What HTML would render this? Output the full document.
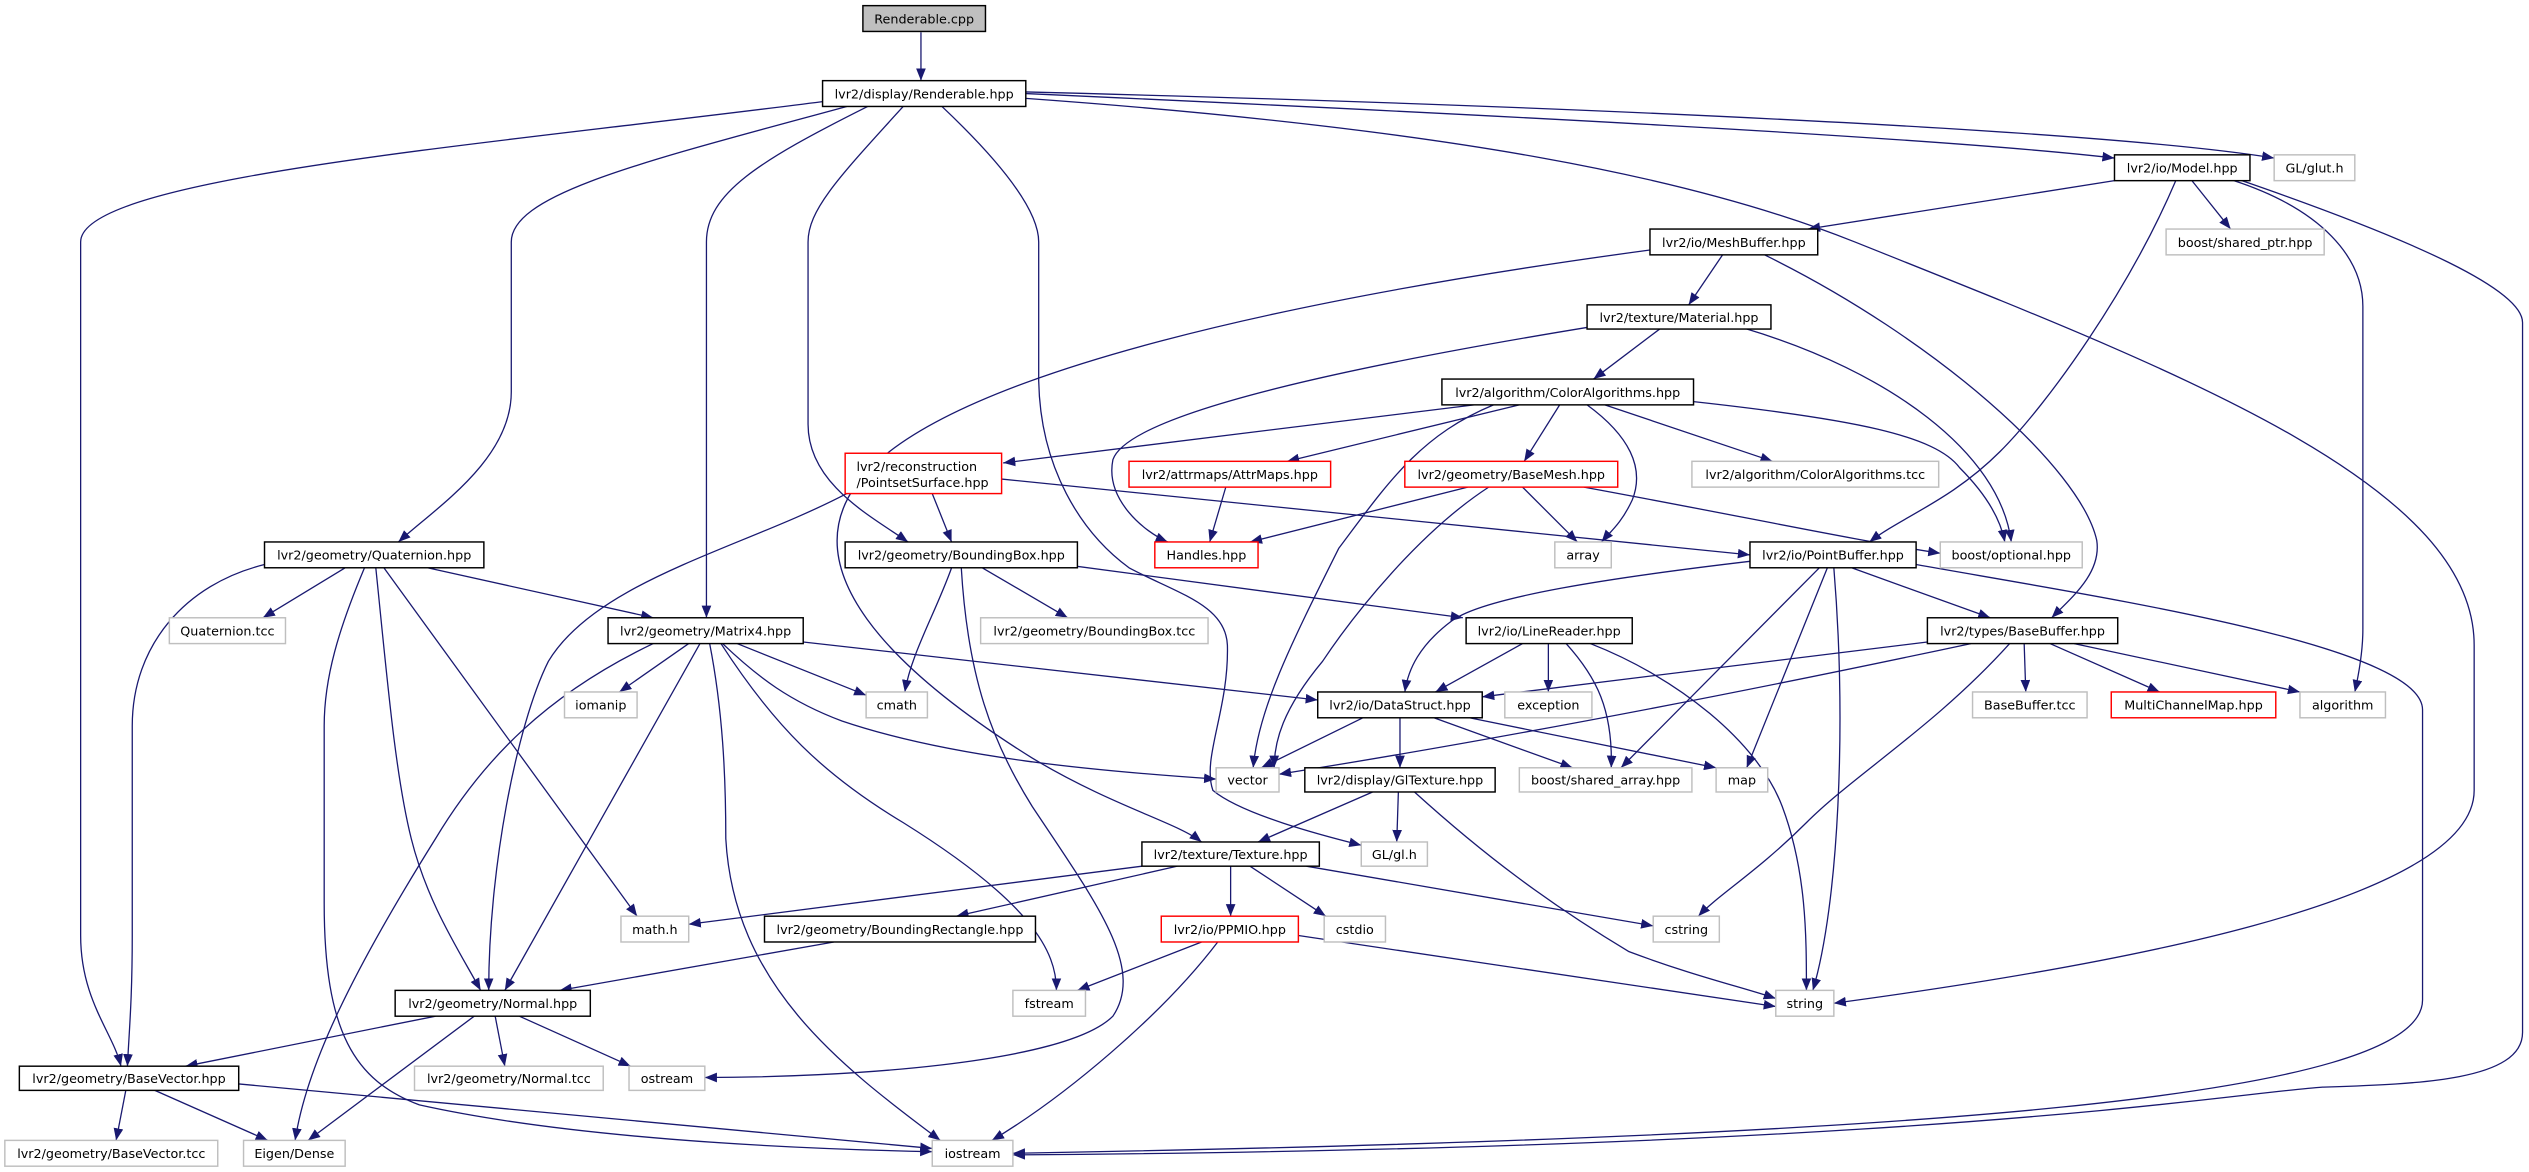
<!DOCTYPE html>
<html><head><meta charset="utf-8"><style>
html,body{margin:0;padding:0;background:#fff;}
svg{display:block;}
text{font-family:"DejaVu Sans","Liberation Sans",sans-serif;font-size:7.9px;fill:#000;}
.e{fill:none;stroke:#191970;stroke-width:0.8;}
.b{fill:#fff;stroke:#000;stroke-width:0.9;}
.g{fill:#fff;stroke:#bfbfbf;stroke-width:0.9;}
.r{fill:#fff;stroke:#ff0000;stroke-width:0.9;}
</style></head><body>
<svg width="2529" height="1172" viewBox="0 0 1568 726.6" preserveAspectRatio="none" xmlns="http://www.w3.org/2000/svg">
<defs><marker id="a" markerUnits="userSpaceOnUse" markerWidth="10" markerHeight="8" refX="7.5" refY="3" orient="auto"><path d="M0,0 L7.5,3 L0,6 Z" fill="#191970"/></marker></defs>
<g marker-end="url(#a)">
<path class="e" d="M571,20 L571,50"/>
<path class="e" d="M510,63 C300,90 50,110 50,150 L50,580 C50,620 70,640 75,661"/>
<path class="e" d="M525,66 C400,100 317,120 317,150 L317,243 C317,285 270,315 247,336"/>
<path class="e" d="M538,66 C470,100 438,120 438,150 L438,383"/>
<path class="e" d="M560,66 C520,110 501,130 501,150 L501,263 C501,300 540,320 563,336"/>
<path class="e" d="M584,66 C620,100 644,130 644,150 L644,236 C645,290 670,330 700,352 C730,368 760,375 761,400 C762,440 745,470 752,490 C770,505 820,518 844,524"/>
<path class="e" d="M636,58 C900,70 1200,85 1311,98"/>
<path class="e" d="M636,57 C950,65 1300,80 1410,98"/>
<path class="e" d="M636,61 C900,80 1050,110 1150,150 C1350,230 1534,300 1534,400 L1534,490 C1534,560 1300,600 1137,622"/>
<path class="e" d="M1311,112 L1121,142"/>
<path class="e" d="M1359,112 L1383,142"/>
<path class="e" d="M1349,112 C1320,180 1270,250 1240,280 C1210,310 1180,320 1159,336"/>
<path class="e" d="M1385,112 C1440,130 1465,160 1465,190 L1465,390 C1465,405 1462,420 1460,429"/>
<path class="e" d="M1390,112 C1500,150 1564,180 1564,200 L1564,640 C1564,670 1500,672 1440,674 C1380,678 1200,712 628,716"/>
<path class="e" d="M1188,350 C1300,370 1502,400 1502,440 L1502,620 C1502,680 1200,705 628,715"/>
<path class="e" d="M1068,158 L1047,189"/>
<path class="e" d="M1023,155 C800,185 600,230 540,290 C480,350 560,420 640,470 C690,500 730,510 745,522"/>
<path class="e" d="M1094,158 C1200,210 1290,290 1300,335 C1303,355 1285,370 1272,383"/>
<path class="e" d="M984,203 C850,225 700,255 690,285 C685,310 710,330 724,336"/>
<path class="e" d="M1029,204 L988,235"/>
<path class="e" d="M1083,204 C1170,230 1240,280 1247,336"/>
<path class="e" d="M914,251 L622,287"/>
<path class="e" d="M942,251 L798,286"/>
<path class="e" d="M926,251 C880,270 860,300 830,340 C800,400 780,440 777,476"/>
<path class="e" d="M967,251 L945,286"/>
<path class="e" d="M984,251 C1010,270 1020,290 1012,310 C1005,325 998,330 993,336"/>
<path class="e" d="M995,251 L1099,286"/>
<path class="e" d="M1050,249 C1150,260 1200,270 1215,290 C1230,305 1240,320 1243,336"/>
<path class="e" d="M578,306 L590,336"/>
<path class="e" d="M621,297 C800,315 950,330 1085,344"/>
<path class="e" d="M525,306 C460,340 370,360 340,410 C320,450 303,540 303,614"/>
<path class="e" d="M760,302 L750,336"/>
<path class="e" d="M910,302 L775,336"/>
<path class="e" d="M923,302 C880,330 840,380 820,410 C795,440 790,460 790,476"/>
<path class="e" d="M944,302 L978,336"/>
<path class="e" d="M982,302 C1080,320 1150,335 1203,343"/>
<path class="e" d="M214,352 L163,383"/>
<path class="e" d="M265,352 L405,383"/>
<path class="e" d="M164,350 C115,362 82,400 82,450 L82,580 C82,620 80,640 79,661"/>
<path class="e" d="M226,352 C210,390 201,420 201,450 L201,560 C201,640 220,670 260,685 C350,705 480,712 578,714"/>
<path class="e" d="M233,352 C240,420 245,480 255,520 C265,560 285,590 298,614"/>
<path class="e" d="M238,352 L395,568"/>
<path class="e" d="M590,352 C580,380 565,405 561,429"/>
<path class="e" d="M609,352 L662,383"/>
<path class="e" d="M652,349 L907,383"/>
<path class="e" d="M596,352 C600,420 615,460 640,500 C680,560 710,600 690,630 C660,660 520,668 437,668"/>
<path class="e" d="M427,399 L384,429"/>
<path class="e" d="M405,399 C340,430 300,470 270,520 C220,600 190,660 183,707"/>
<path class="e" d="M434,399 L313,614"/>
<path class="e" d="M440,399 C448,440 450,480 450,520 C455,610 520,660 583,707"/>
<path class="e" d="M457,399 L537,431"/>
<path class="e" d="M448,399 C470,420 490,435 522,447 C590,470 680,478 754,483"/>
<path class="e" d="M447,399 C480,450 510,480 560,510 C640,560 655,590 655,614"/>
<path class="e" d="M498,398 L817,434"/>
<path class="e" d="M944,399 L890,429"/>
<path class="e" d="M960,399 L960,429"/>
<path class="e" d="M971,399 C990,420 1000,440 999,476"/>
<path class="e" d="M986,399 C1040,420 1090,460 1105,500 C1120,540 1120,580 1120,614"/>
<path class="e" d="M1085,348 C1000,358 920,370 900,385 C880,400 873,415 871,429"/>
<path class="e" d="M1128,352 L1005,476"/>
<path class="e" d="M1133,352 L1083,476"/>
<path class="e" d="M1137,352 C1145,450 1140,560 1124,614"/>
<path class="e" d="M1148,352 L1234,383"/>
<path class="e" d="M1195,398 L919,432"/>
<path class="e" d="M1222,399 C1100,425 950,455 793,480"/>
<path class="e" d="M1246,399 C1200,450 1150,480 1120,510 C1090,540 1065,555 1053,568"/>
<path class="e" d="M1255,399 L1256,429"/>
<path class="e" d="M1271,399 L1339,429"/>
<path class="e" d="M1286,399 L1426,429"/>
<path class="e" d="M845,445 L782,476"/>
<path class="e" d="M868,445 L868,476"/>
<path class="e" d="M889,445 L975,476"/>
<path class="e" d="M911,445 L1064,476"/>
<path class="e" d="M851,491 L780,522"/>
<path class="e" d="M867,491 L866,522"/>
<path class="e" d="M877,491 C920,530 960,560 1010,590 C1050,605 1080,612 1101,619"/>
<path class="e" d="M708,537 L427,573"/>
<path class="e" d="M730,537 L593,568"/>
<path class="e" d="M763,537 L763,568"/>
<path class="e" d="M775,537 L822,568"/>
<path class="e" d="M810,537 L1025,574"/>
<path class="e" d="M745,584 L668,614"/>
<path class="e" d="M805,580 L1101,624"/>
<path class="e" d="M755,584 C720,630 660,680 615,707"/>
<path class="e" d="M517,584 L347,614"/>
<path class="e" d="M270,630 L115,661"/>
<path class="e" d="M294,630 L191,707"/>
<path class="e" d="M307,630 L313,661"/>
<path class="e" d="M322,630 L391,661"/>
<path class="e" d="M78,676 L72,707"/>
<path class="e" d="M96,676 L166,707"/>
<path class="e" d="M148,672 L578,712"/>
</g>
<g text-anchor="middle">
<rect x="535" y="3.5" width="76" height="16" fill="#bfbfbf" stroke="#000" stroke-width="0.9"/><text x="573" y="14.5">Renderable.cpp</text>
<rect class="b" x="510" y="50" width="126" height="16"/><text x="573" y="61">lvr2/display/Renderable.hpp</text>
<rect class="b" x="1311" y="96" width="84" height="16"/><text x="1353" y="107">lvr2/io/Model.hpp</text>
<rect class="g" x="1410" y="96" width="50" height="16"/><text x="1435" y="107">GL/glut.h</text>
<rect class="b" x="1023" y="142" width="104" height="16"/><text x="1075" y="153">lvr2/io/MeshBuffer.hpp</text>
<rect class="g" x="1343" y="142" width="98" height="16"/><text x="1392" y="153">boost/shared_ptr.hpp</text>
<rect class="b" x="984" y="189" width="114" height="15"/><text x="1041" y="199.5">lvr2/texture/Material.hpp</text>
<rect class="b" x="894" y="235" width="156" height="16"/><text x="972" y="246">lvr2/algorithm/ColorAlgorithms.hpp</text>
<rect class="r" x="524" y="281" width="97" height="25"/>
<rect class="r" x="700" y="286" width="125" height="16"/><text x="762.5" y="297">lvr2/attrmaps/AttrMaps.hpp</text>
<rect class="r" x="871" y="286" width="132" height="16"/><text x="937" y="297">lvr2/geometry/BaseMesh.hpp</text>
<rect class="g" x="1049" y="286" width="153" height="16"/><text x="1125.5" y="297">lvr2/algorithm/ColorAlgorithms.tcc</text>
<rect class="b" x="164" y="336" width="136" height="16"/><text x="232" y="347">lvr2/geometry/Quaternion.hpp</text>
<rect class="b" x="524" y="336" width="144" height="16"/><text x="596" y="347">lvr2/geometry/BoundingBox.hpp</text>
<rect class="r" x="716" y="336" width="64" height="16"/><text x="748" y="347">Handles.hpp</text>
<rect class="g" x="964" y="336" width="35" height="16"/><text x="981.5" y="347">array</text>
<rect class="b" x="1085" y="336" width="103" height="16"/><text x="1136.5" y="347">lvr2/io/PointBuffer.hpp</text>
<rect class="g" x="1203" y="336" width="88" height="16"/><text x="1247" y="347">boost/optional.hpp</text>
<rect class="g" x="105" y="383" width="72" height="16"/><text x="141" y="394">Quaternion.tcc</text>
<rect class="b" x="377" y="383" width="121" height="16"/><text x="437.5" y="394">lvr2/geometry/Matrix4.hpp</text>
<rect class="g" x="608" y="383" width="141" height="16"/><text x="678.5" y="394">lvr2/geometry/BoundingBox.tcc</text>
<rect class="b" x="909" y="383" width="103" height="16"/><text x="960.5" y="394">lvr2/io/LineReader.hpp</text>
<rect class="b" x="1195" y="383" width="118" height="16"/><text x="1254" y="394">lvr2/types/BaseBuffer.hpp</text>
<rect class="g" x="350" y="429" width="45" height="16"/><text x="372.5" y="440">iomanip</text>
<rect class="g" x="537" y="429" width="38" height="16"/><text x="556" y="440">cmath</text>
<rect class="b" x="817" y="429" width="102" height="16"/><text x="868" y="440">lvr2/io/DataStruct.hpp</text>
<rect class="g" x="933" y="429" width="54" height="16"/><text x="960" y="440">exception</text>
<rect class="g" x="1223" y="429" width="71" height="16"/><text x="1258.5" y="440">BaseBuffer.tcc</text>
<rect class="r" x="1309" y="429" width="102" height="16"/><text x="1360" y="440">MultiChannelMap.hpp</text>
<rect class="g" x="1426" y="429" width="53" height="16"/><text x="1452.5" y="440">algorithm</text>
<rect class="g" x="754" y="476" width="39" height="15"/><text x="773.5" y="486.5">vector</text>
<rect class="b" x="809" y="476" width="118" height="15"/><text x="868" y="486.5">lvr2/display/GlTexture.hpp</text>
<rect class="g" x="942" y="476" width="107" height="15"/><text x="995.5" y="486.5">boost/shared_array.hpp</text>
<rect class="g" x="1064" y="476" width="32" height="15"/><text x="1080" y="486.5">map</text>
<rect class="b" x="708" y="522" width="110" height="15"/><text x="763" y="532.5">lvr2/texture/Texture.hpp</text>
<rect class="g" x="844" y="522" width="41" height="15"/><text x="864.5" y="532.5">GL/gl.h</text>
<rect class="g" x="385" y="568" width="42" height="16"/><text x="406" y="579">math.h</text>
<rect class="b" x="474" y="568" width="168" height="16"/><text x="558" y="579">lvr2/geometry/BoundingRectangle.hpp</text>
<rect class="r" x="720" y="568" width="85" height="16"/><text x="762.5" y="579">lvr2/io/PPMIO.hpp</text>
<rect class="g" x="821" y="568" width="38" height="16"/><text x="840" y="579">cstdio</text>
<rect class="g" x="1025" y="568" width="41" height="16"/><text x="1045.5" y="579">cstring</text>
<rect class="b" x="245" y="614" width="121" height="16"/><text x="305.5" y="625">lvr2/geometry/Normal.hpp</text>
<rect class="g" x="628" y="614" width="45" height="16"/><text x="650.5" y="625">fstream</text>
<rect class="g" x="1101" y="614" width="36" height="16"/><text x="1119" y="625">string</text>
<rect class="b" x="12" y="661" width="136" height="15"/><text x="80" y="671.5">lvr2/geometry/BaseVector.hpp</text>
<rect class="g" x="257" y="661" width="117" height="15"/><text x="315.5" y="671.5">lvr2/geometry/Normal.tcc</text>
<rect class="g" x="390" y="661" width="47" height="15"/><text x="413.5" y="671.5">ostream</text>
<rect class="g" x="3" y="707" width="132" height="16"/><text x="69" y="718">lvr2/geometry/BaseVector.tcc</text>
<rect class="g" x="151" y="707" width="63" height="16"/><text x="182.5" y="718">Eigen/Dense</text>
<rect class="g" x="578" y="707" width="50" height="16"/><text x="603" y="718">iostream</text>
</g>
<text x="531" y="292">lvr2/reconstruction</text>
<text x="531" y="302">/PointsetSurface.hpp</text>
</svg>
</body></html>
